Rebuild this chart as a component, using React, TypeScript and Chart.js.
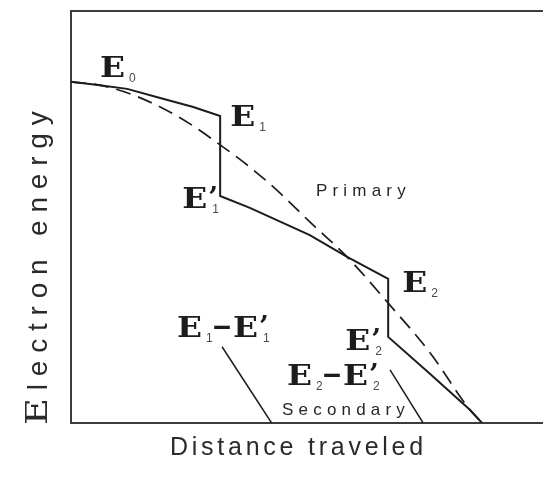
import { useEffect, useRef } from "react";
import { Chart, registerables } from "chart.js";

Chart.register(...registerables);

// Distance travelled (0–100) and electron energy (0–100), arbitrary units
const primaryDistance = [0, 6.1, 11.9, 18.9, 25.9, 31.6, 31.6, 37.9, 50.6, 58.5, 67.2, 67.2, 76.1, 84.5, 87.1];
const primaryEnergy = [82.8, 82.0, 81.1, 78.9, 76.7, 74.5, 55.1, 52.2, 45.6, 40.3, 35.0, 20.9, 11.9, 3.2, 0];

// Mean (continuous slowing-down) energy loss curve
const meanDistance = [0, 6.1, 12.5, 18.9, 25.2, 31.6, 37.9, 44.3, 50.6, 58.5, 67.2, 76.1, 84.5, 87.1];
const meanEnergy = [82.8, 82.0, 79.9, 76.7, 72.6, 67.5, 62.1, 55.8, 48.8, 40.3, 29.1, 17.0, 3.2, 0];

// Secondary electrons released at the two collisions
const secondary1Distance = [32.0, 42.5];
const secondary1Energy = [18.5, 0];
const secondary2Distance = [67.6, 74.6];
const secondary2Energy = [12.9, 0];

const xTitle = "Distance traveled";
const yTitleHead = "E";
const yTitleTail = "lectron energy";
const primaryText = "Primary";
const secondaryText = "Secondary";

const INK = "#1c1c1c";
const FRAME = "#3c3c3c";
const SERIF_BOLD = 'bold 27px "DejaVu Serif", serif';
const SUB_FONT = '12px "Liberation Sans", Arial, sans-serif';
const SANS = '"Liberation Sans", Arial, sans-serif';

type Ctx = CanvasRenderingContext2D;

function spacedText(ctx: Ctx, text: string, x: number, y: number, spacing: number) {
  let cx = x;
  for (const ch of text) {
    ctx.fillText(ch, cx, y);
    cx += ctx.measureText(ch).width + spacing;
  }
  return cx;
}

function bigE(ctx: Ctx, x: number, y: number) {
  ctx.save();
  ctx.font = SERIF_BOLD;
  ctx.fillStyle = INK;
  const w = ctx.measureText("E").width;
  ctx.translate(x, y);
  ctx.scale(25 / w, 1);
  ctx.fillText("E", 0, 0);
  ctx.restore();
}

function subscript(ctx: Ctx, s: string, x: number, y: number) {
  ctx.save();
  ctx.font = SUB_FONT;
  ctx.fillStyle = "#4a4a4a";
  ctx.fillText(s, x, y);
  ctx.restore();
}

function prime(ctx: Ctx, x: number, y: number) {
  ctx.save();
  ctx.font = 'bold 28px "DejaVu Serif", serif';
  ctx.fillStyle = INK;
  ctx.fillText("\u2019", x, y - 1);
  ctx.restore();
}

function dash(ctx: Ctx, x: number, y: number, width: number) {
  ctx.save();
  ctx.font = SERIF_BOLD;
  ctx.fillStyle = INK;
  const w = ctx.measureText("\u2013").width;
  ctx.translate(x, y);
  ctx.scale(width / w, 1);
  ctx.fillText("\u2013", 0, 0);
  ctx.restore();
}

// E with subscript (and optional prime), left edge x, baseline y
function energyLabel(ctx: Ctx, x: number, y: number, sub: string, primed: boolean) {
  bigE(ctx, x, y);
  if (primed) {
    prime(ctx, x + 26, y);
    subscript(ctx, sub, x + 30, y + 5);
  } else {
    subscript(ctx, sub, x + 29, y + 5);
  }
}

function differenceLabel(ctx: Ctx, x: number, y: number, sub: string) {
  energyLabel(ctx, x, y, sub, false);
  dash(ctx, x + 35, y - 2, 20);
  energyLabel(ctx, x + 56, y, sub, true);
}

const framePlugin = {
  id: "frame",
  beforeDatasetsDraw(chart: Chart) {
    const { ctx, chartArea, width } = chart;
    ctx.save();
    ctx.strokeStyle = FRAME;
    ctx.lineWidth = 2;
    ctx.beginPath();
    ctx.moveTo(width, chartArea.top);
    ctx.lineTo(chartArea.left, chartArea.top);
    ctx.lineTo(chartArea.left, chartArea.bottom);
    ctx.lineTo(width, chartArea.bottom);
    ctx.stroke();
    ctx.restore();
  },
};

const labelPlugin = {
  id: "labels",
  afterDatasetsDraw(chart: Chart) {
    const { ctx, chartArea } = chart;
    const xs = chart.scales.x;
    const ys = chart.scales.y;
    const px = (d: number) => xs.getPixelForValue(d);
    const py = (e: number) => ys.getPixelForValue(e);
    const at = (i: number) => ({ x: px(primaryDistance[i]), y: py(primaryEnergy[i]) });

    ctx.save();
    ctx.textBaseline = "alphabetic";
    ctx.textAlign = "left";

    const p0 = at(0);
    energyLabel(ctx, p0.x + 29, p0.y - 5, "0", false);
    const p1 = at(5);
    energyLabel(ctx, p1.x + 10, p1.y + 10, "1", false);
    const p1b = at(6);
    energyLabel(ctx, p1b.x - 38, p1b.y + 12, "1", true);
    const p2 = at(10);
    energyLabel(ctx, p2.x + 14, p2.y + 13, "2", false);
    const p2b = at(11);
    energyLabel(ctx, p2b.x - 43, p2b.y + 13, "2", true);

    differenceLabel(ctx, px(secondary1Distance[0]) - 45, py(secondary1Energy[0]) - 10, "1");
    differenceLabel(ctx, px(secondary2Distance[0]) - 103, py(secondary2Energy[0]) + 15, "2");

    ctx.fillStyle = "#262626";
    ctx.font = `17px ${SANS}`;
    spacedText(ctx, primaryText, px(51.9), py(55.1), 5.2);
    spacedText(ctx, secondaryText, px(44.7), py(1.9), 5.2);

    // axis titles
    ctx.fillStyle = "#2a2a2a";
    ctx.font = `25px ${SANS}`;
    spacedText(ctx, xTitle, chartArea.left + 99, chartArea.bottom + 32, 3.75);

    ctx.save();
    ctx.translate(chartArea.left - 24, chartArea.bottom + 2);
    ctx.rotate(-Math.PI / 2);
    ctx.font = '29px "DejaVu Serif", serif';
    const ew = ctx.measureText(yTitleHead).width;
    ctx.save();
    ctx.scale(27 / ew, 1);
    ctx.fillText(yTitleHead, 0, 0);
    ctx.restore();
    ctx.font = `28px ${SANS}`;
    spacedText(ctx, yTitleTail, 27 + 7.8, 0, 7.8);
    ctx.restore();

    ctx.restore();
  },
};

export default function App() {
  const ref = useRef<HTMLCanvasElement | null>(null);

  useEffect(() => {
    if (!ref.current) return;
    const pts = (xs: number[], ys: number[]) => xs.map((x, i) => ({ x, y: ys[i] }));
    const chart = new Chart(ref.current, {
      type: "line",
      data: {
        datasets: [
          {
            data: pts(primaryDistance, primaryEnergy),
            borderColor: INK,
            borderWidth: 2,
            pointRadius: 0,
            tension: 0,
          },
          {
            data: pts(meanDistance, meanEnergy),
            borderColor: INK,
            borderWidth: 1.7,
            borderDash: [15, 8],
            pointRadius: 0,
            cubicInterpolationMode: "monotone",
          },
          {
            data: pts(secondary1Distance, secondary1Energy),
            borderColor: INK,
            borderWidth: 1.5,
            pointRadius: 0,
          },
          {
            data: pts(secondary2Distance, secondary2Energy),
            borderColor: INK,
            borderWidth: 1.5,
            pointRadius: 0,
          },
        ],
      },
      options: {
        responsive: false,
        animation: false,
        layout: { padding: { left: 71, top: 11, right: 0, bottom: 54 } },
        scales: {
          x: { type: "linear", min: 0, max: 100, display: false },
          y: { type: "linear", min: 0, max: 100, display: false },
        },
        plugins: { legend: { display: false }, tooltip: { enabled: false } },
      },
      plugins: [framePlugin, labelPlugin],
    });
    return () => chart.destroy();
  }, []);

  return (
    <div style={{ position: "fixed", left: 0, top: 0, width: 543, height: 477, background: "#fff" }}>
      <canvas ref={ref} width={543} height={477} style={{ display: "block" }} />
    </div>
  );
}
